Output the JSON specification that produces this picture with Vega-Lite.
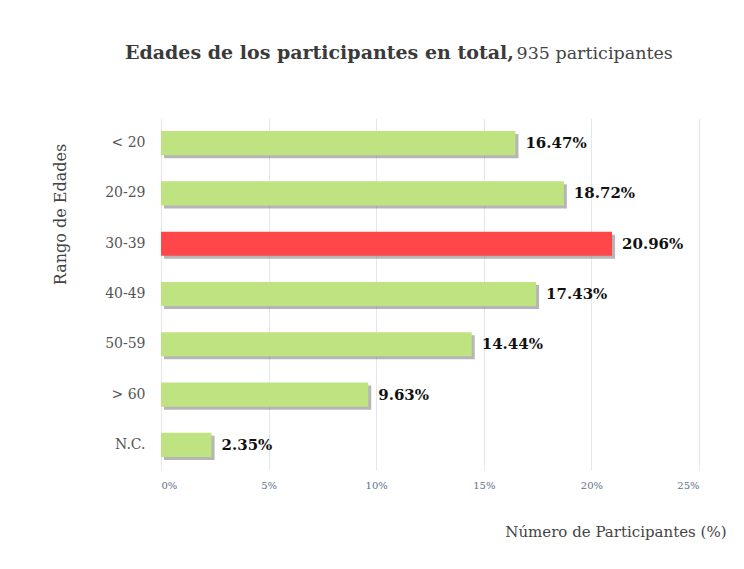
{
  "$schema": "https://vega.github.io/schema/vega-lite/v6.json",
  "autosize": {"type": "none"},
  "width": 538,
  "height": 352,
  "padding": {"left": 161, "top": 118, "right": 45, "bottom": 99},
  "background": "white",
  "title": {
    "text": "Edades de los participantes en total,",
    "anchor": "start",
    "frame": "group",
    "dx": -36,
    "dy": 44,
    "font": "DejaVu Serif",
    "fontSize": 19,
    "fontWeight": "bold",
    "color": "#3a3a3a",
    "baseline": "alphabetic",
    "offset": 10
  },
  "data": {
    "values": [
      {"edad": "< 20", "pct": 16.47, "label": "16.47%", "grupo": "otro"},
      {"edad": "20-29", "pct": 18.72, "label": "18.72%", "grupo": "otro"},
      {"edad": "30-39", "pct": 20.96, "label": "20.96%", "grupo": "max"},
      {"edad": "40-49", "pct": 17.43, "label": "17.43%", "grupo": "otro"},
      {"edad": "50-59", "pct": 14.44, "label": "14.44%", "grupo": "otro"},
      {"edad": "> 60", "pct": 9.63, "label": "9.63%", "grupo": "otro"},
      {"edad": "N.C.", "pct": 2.35, "label": "2.35%", "grupo": "otro"}
    ]
  },
  "encoding": {
    "y": {
      "field": "edad",
      "type": "nominal",
      "sort": null,
      "scale": {"paddingInner": 0.52, "paddingOuter": 0.26},
      "axis": {
        "title": "Rango de Edades",
        "titleFont": "DejaVu Serif",
        "titleFontSize": 16,
        "titleFontWeight": "normal",
        "titleColor": "#444444",
        "titleX": -93,
        "titleY": 96,
        "titleAngle": -90,
        "titleAlign": "center",
        "titleBaseline": "bottom",
        "labelFont": "DejaVu Serif",
        "labelFontSize": 14,
        "labelColor": "#555555",
        "labelPadding": 16,
        "ticks": false,
        "domain": false,
        "grid": false
      }
    }
  },
  "layer": [
    {
      "mark": {"type": "bar", "color": "#6e6e6e", "opacity": 0.5, "xOffset": 3, "yOffset": 3},
      "encoding": {
        "x": {
          "field": "pct",
          "type": "quantitative",
          "scale": {"domain": [0, 25], "nice": false},
          "axis": {
            "orient": "bottom",
            "values": [0, 5, 10, 15, 20, 25],
            "format": "d",
            "labelExpr": "datum.label + '%'",
            "labelFont": "DejaVu Serif",
            "labelFontSize": 10,
            "labelColor": "#5f6f8c",
            "labelPadding": 10,
            "ticks": false,
            "domain": false,
            "grid": true,
            "gridColor": "#e3e7ee",
            "title": "Número de Participantes (%)",
            "titleFont": "DejaVu Serif",
            "titleFontSize": 15,
            "titleFontWeight": "normal",
            "titleColor": "#444444",
            "titleAnchor": "end",
            "titleAlign": "right",
            "titleX": 565,
            "titleY": 54
          }
        }
      }
    },
    {
      "mark": {"type": "bar"},
      "encoding": {
        "x": {"field": "pct", "type": "quantitative", "axis": null},
        "color": {
          "field": "grupo",
          "type": "nominal",
          "scale": {"domain": ["otro", "max"], "range": ["#bfe381", "#ff474a"]},
          "legend": null
        }
      }
    },
    {
      "mark": {
        "type": "text",
        "align": "left",
        "baseline": "middle",
        "dx": 10,
        "font": "DejaVu Serif",
        "fontSize": 15,
        "fontWeight": "bold",
        "color": "#111111"
      },
      "encoding": {
        "x": {
          "field": "pct",
          "type": "quantitative",
          "axis": {
            "orient": "top",
            "labels": false,
            "ticks": false,
            "domain": false,
            "grid": false,
            "title": "935 participantes",
            "titleFont": "DejaVu Serif",
            "titleFontSize": 17.5,
            "titleFontWeight": "normal",
            "titleColor": "#444444",
            "titleAnchor": "start",
            "titleAlign": "left",
            "titleBaseline": "alphabetic",
            "titleX": 355,
            "titleY": -60
          }
        },
        "text": {"field": "label"}
      }
    }
  ],
  "config": {
    "view": {"stroke": null}
  }
}
